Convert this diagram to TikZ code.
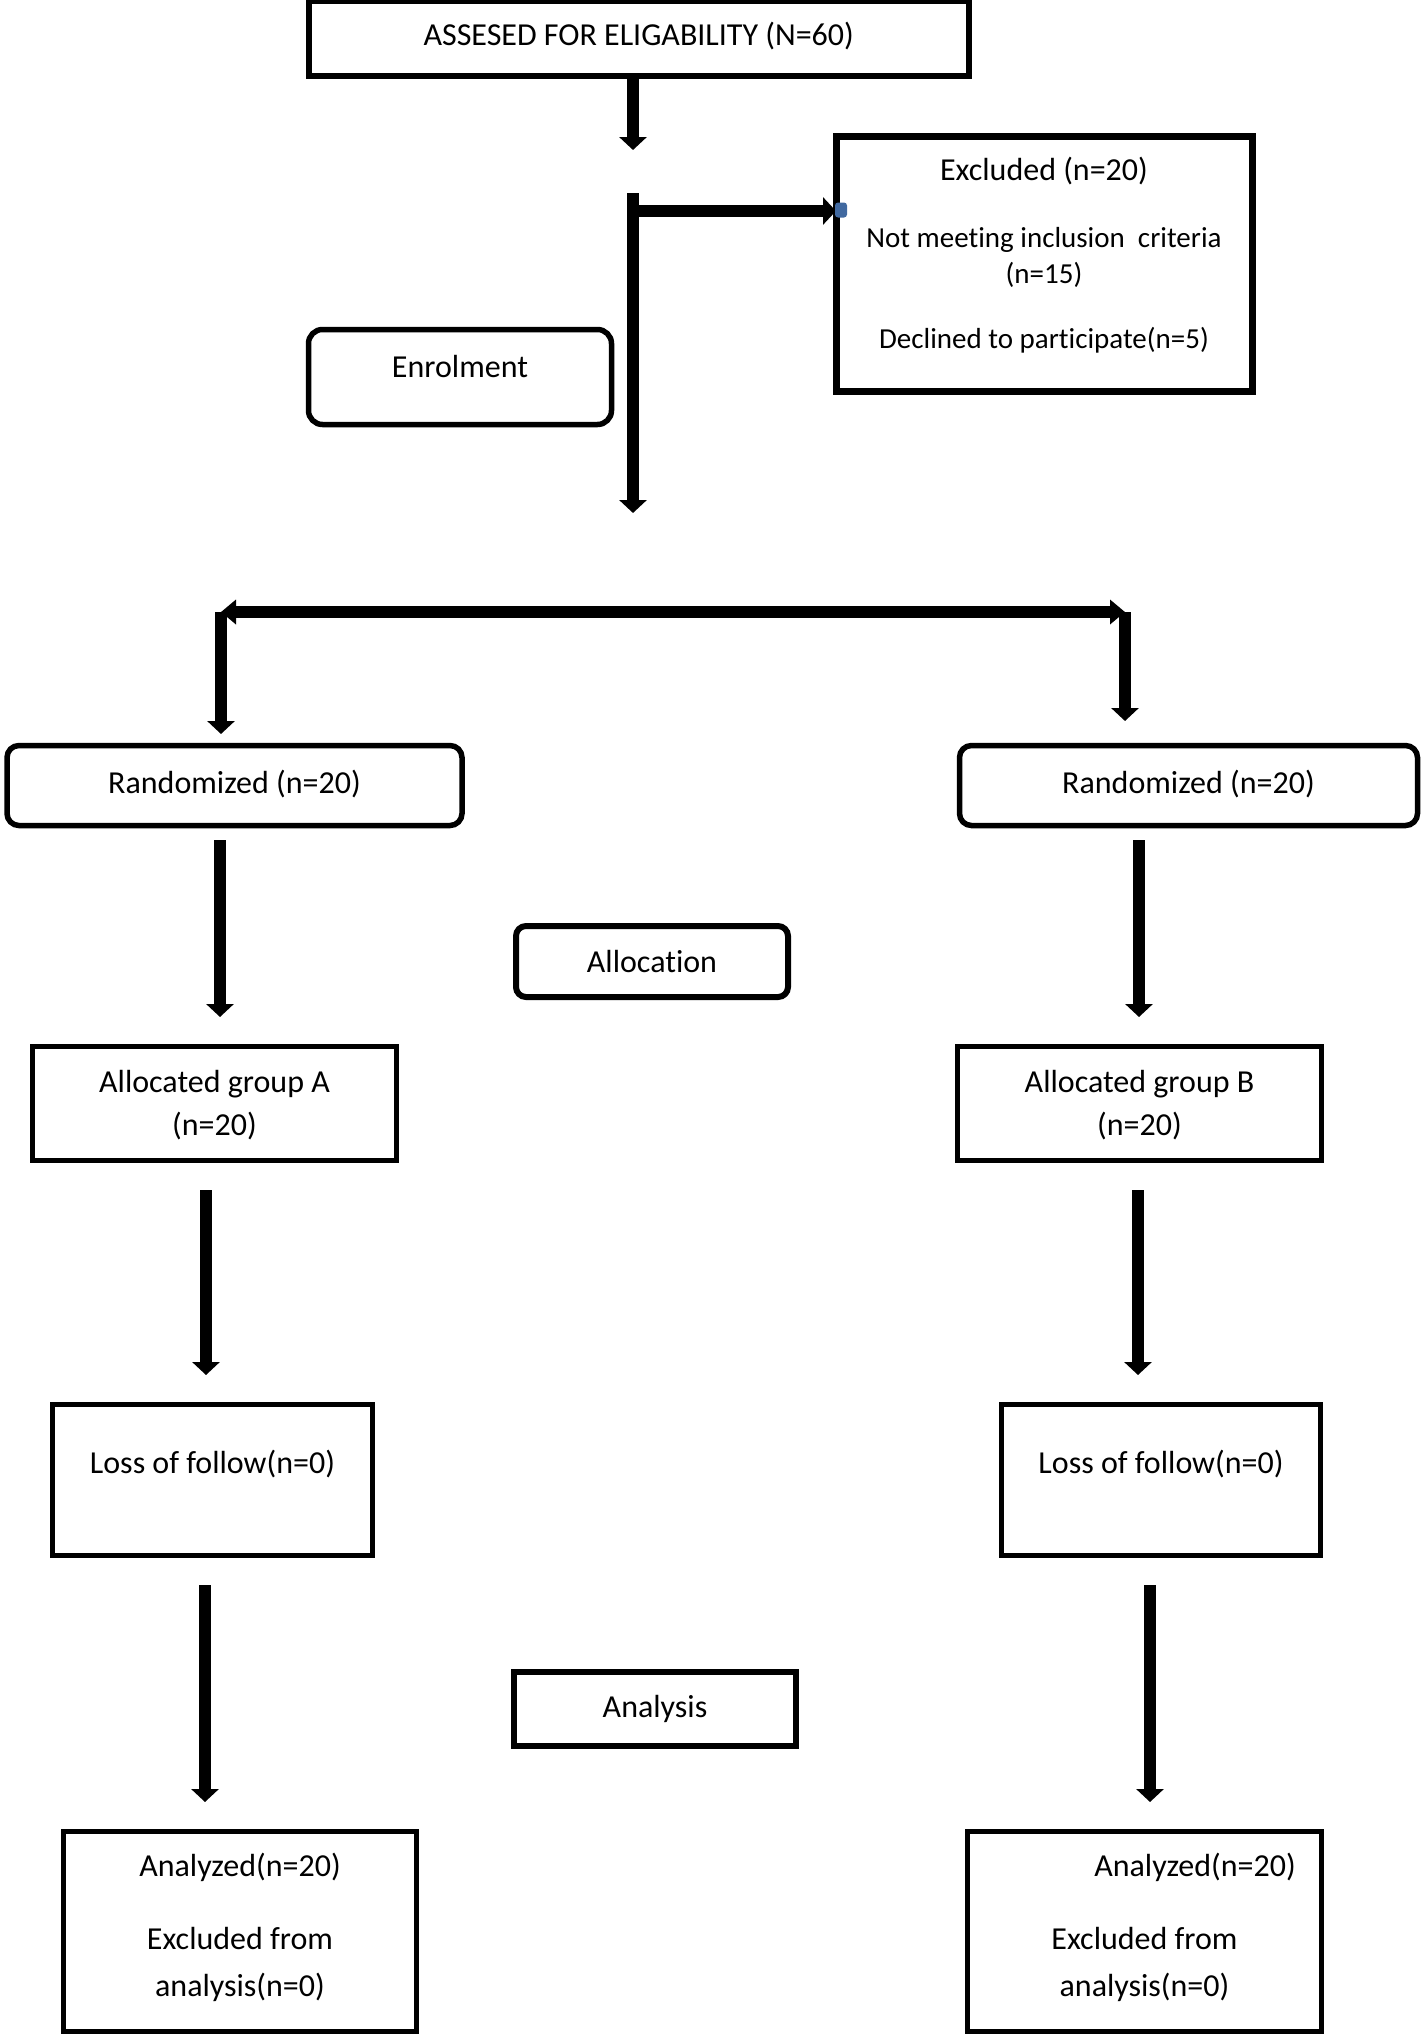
\documentclass[tikz,border=0pt]{standalone}
\usepackage{fontspec}
\setmainfont{Carlito}[Ligatures=NoCommon]
\usetikzlibrary{arrows.meta}

\definecolor{handleblue}{RGB}{65,105,160}

\begin{document}
\begin{tikzpicture}[
  x=0.5pt,y=-0.5pt,
  font=\fontsize{16}{19}\selectfont,
  frame/.style={draw=black,line width=2.75pt,inner sep=0pt,outer sep=0pt,anchor=base,align=center},
  roundframe/.style={frame,rounded corners=6pt},
  arrow/.style={-{Triangle[width=13.5pt,length=6.5pt]},line width=6pt},
  twoway/.style={arrow,{Triangle[width=12pt,length=7.5pt]}-{Triangle[width=12pt,length=7.5pt]}},
  handle/.style={fill=handleblue,rounded corners=1.5pt,minimum width=6pt,minimum height=7.5pt,inner sep=0pt}
]
  \useasboundingbox (0,0) rectangle (1423,2034);

  % enrolment
  \node[frame,line width=3pt,minimum width=330.25pt,text height=22.5pt,text depth=15pt] (assess) at (638.75,46) {ASSESED FOR ELIGABILITY (N=60)};
  \node[frame,line width=3.5pt,minimum width=208pt,text height=105.75pt,text depth=21.75pt,font=\fontsize{16}{18}\selectfont] (excl) at (1044,348)
    {Excluded (n=20)\\[15.5pt]\fontsize{14.5}{18}\selectfont Not meeting inclusion~ criteria\\\fontsize{14.5}{18}\selectfont (n=15)\\[14.5pt]\fontsize{14.5}{18}\selectfont Declined to participate(n=5)};
  \node[roundframe,rounded corners=7pt,minimum width=151.5pt,text height=23.75pt,text depth=23.75pt] (enrol) at (460,377) {Enrolment};

  % allocation
  \node[roundframe,minimum width=227.5pt,text height=23.75pt,text depth=16.25pt] (randA) at (234.5,793) {Randomized (n=20)};
  \node[roundframe,minimum width=229pt,text height=23.75pt,text depth=16.25pt] (randB) at (1188.5,793) {Randomized (n=20)};
  \node[roundframe,rounded corners=5pt,line width=3pt,minimum width=136pt,text height=23pt,text depth=12.5pt] (alloc) at (652,972) {Allocation};
  \node[frame,minimum width=182pt,text height=44.25pt,text depth=12.75pt,font=\fontsize{16}{21.5}\selectfont] (grpA) at (214.5,1135) {Allocated group A\\(n=20)};
  \node[frame,minimum width=182pt,text height=44.25pt,text depth=12.75pt,font=\fontsize{16}{21.5}\selectfont] (grpB) at (1139.5,1135) {Allocated group B\\(n=20)};

  % follow-up and analysis
  \node[frame,minimum width=160pt,text height=34.25pt,text depth=41.25pt] (lossA) at (212.5,1473) {Loss of follow(n=0)};
  \node[frame,minimum width=159.5pt,text height=34.25pt,text depth=41.25pt] (lossB) at (1161,1473) {Loss of follow(n=0)};
  \node[frame,line width=3pt,minimum width=141pt,text height=22.5pt,text depth=14.5pt] (analysis) at (655,1717) {Analysis};
  \node[frame,minimum width=176.5pt,text height=82.25pt,text depth=17.75pt,font=\fontsize{16}{23.5}\selectfont] (anaA) at (240,1996)
    {Analyzed(n=20)\\[13pt]Excluded from\\analysis(n=0)};
  \node[frame,minimum width=177pt,text height=82.25pt,text depth=17.75pt,font=\fontsize{16}{23.5}\selectfont] (anaB) at (1144.5,1996)
    {\hspace*{50.5pt}Analyzed(n=20)\\[13pt]Excluded from\\analysis(n=0)};

  % free ends and columns
  \coordinate (drop1) at (633,150);
  \coordinate (trunkTop) at (633,193);
  \coordinate (trunkEnd) at (633,513);
  \coordinate (branch) at (633,211);
  \coordinate (splitL) at (221,612);
  \coordinate (splitR) at (1125,612);
  \coordinate (colA1) at (220,0);
  \coordinate (colB1) at (1139,0);
  \coordinate (colA2) at (206,0);
  \coordinate (colB2) at (1138,0);
  \coordinate (colA3) at (205,0);
  \coordinate (colB3) at (1150,0);

  \draw[arrow] (assess.south -| drop1) -- (drop1);
  \draw[arrow] (trunkTop) -- (trunkEnd);
  \draw[arrow] (branch) -- (branch -| excl.west);
  \node[handle] (knob) at (841,210) {};

  \draw[twoway] (splitL) -- (splitR);
  \draw[arrow,shorten >=5.75pt] (splitL) -- (splitL |- randA.north);
  \draw[arrow,shorten >=12.25pt] (splitR) -- (splitR |- randB.north);

  \draw[arrow,shorten <=7.25pt,shorten >=14.75pt] (randA.south -| colA1) -- (grpA.north -| colA1);
  \draw[arrow,shorten <=7.25pt,shorten >=14.75pt] (randB.south -| colB1) -- (grpB.north -| colB1);
  \draw[arrow,shorten <=14.75pt,shorten >=14.75pt] (grpA.south -| colA2) -- (lossA.north -| colA2);
  \draw[arrow,shorten <=14.75pt,shorten >=14.75pt] (grpB.south -| colB2) -- (lossB.north -| colB2);
  \draw[arrow,shorten <=14.75pt,shorten >=14.75pt] (lossA.south -| colA3) -- (anaA.north -| colA3);
  \draw[arrow,shorten <=14.75pt,shorten >=14.75pt] (lossB.south -| colB3) -- (anaB.north -| colB3);
\end{tikzpicture}
\end{document}
